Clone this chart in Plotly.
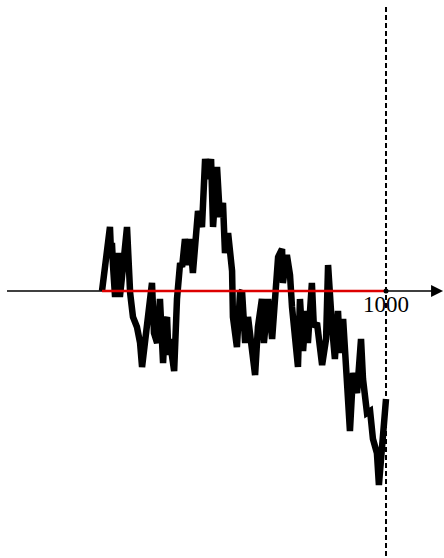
import plotly.graph_objects as go

# Random-walk path (step index, position) sampled along its turning points
steps = [0, 11, 18, 21, 28, 32, 35, 39, 46, 50, 56, 63, 67, 74, 88, 99, 109, 123, 134,
         141, 151, 162, 176, 183, 194, 204, 211, 215, 222, 229, 234, 239, 246, 254,
         264, 275, 282, 292, 303, 310, 320, 335, 338, 352, 363, 373, 384, 391, 405,
         415, 426, 433, 444, 458, 461, 475, 486, 493, 504, 514, 528, 539, 549, 563,
         570, 585, 599, 609, 620, 634, 637, 651, 662, 669, 680, 690, 697, 708, 718,
         725, 739, 746, 757, 768, 775, 789, 796, 810, 820, 831, 838, 849, 856, 866,
         873, 884, 898, 912, 919, 933, 944, 954, 968, 975, 986, 1000]
position = [0, 6, 10, 13.5, 16, 9, 12, 6, -1.5, 4, 9.5, -1.5, 3, 6, 16, -0.5, -6.5,
            -9, -13, -19, -13, -6.5, 2, -10.5, -13, -2, -9, -18, -8, -6.5, -16, -12,
            -16, -20, -2, 7, 6, 13, 6.5, 13, 4.5, 18.5, 20, 16, 33, 28, 33, 16, 31,
            18.5, 22, 9.5, 14.5, 5, -6.5, -14, -0.5, 0, -13, -6.5, -14, -21, -9, -2,
            -13, -2, -12, -0.5, 8.5, 10.5, 2, 9, 4, -4, -10.5, -19, -2, -15, -5, -13,
            2, -9, -8, -17, -18.5, -12, 6.5, -9, -17, -5, -15.5, -7, -15, -25, -35,
            -20.5, -25.5, -12, -22, -30.5, -30, -37, -40.5, -48.5, -37, -27]

n_steps = 1000
x_range = [-359.2, 1204.2]
y_range = [-66.75, 72.75]
axis_left = -334.5
axis_tip = 1201

fig = go.Figure()

# horizontal axis (left part, underneath the walk)
fig.add_trace(go.Scatter(x=[axis_left, n_steps], y=[0, 0], mode="lines",
                         line=dict(color="black", width=1.5), hoverinfo="skip"))

# the walk itself
fig.add_trace(go.Scatter(x=steps, y=position, mode="lines",
                         line=dict(color="black", width=6.5), hoverinfo="skip"))

# zero level over the walk's span
fig.add_trace(go.Scatter(x=[0, n_steps], y=[0, 0], mode="lines",
                         line=dict(color="#dd0000", width=2.5), hoverinfo="skip"))

# dashed marker at the final step
fig.add_trace(go.Scatter(x=[n_steps, n_steps], y=[71, y_range[0]], mode="lines",
                         line=dict(color="black", width=2, dash="5px,3px"),
                         hoverinfo="skip"))
fig.add_trace(go.Scatter(x=[n_steps], y=[0], mode="markers",
                         marker=dict(color="black", size=5), hoverinfo="skip"))

# arrow continuing the axis to the right
fig.add_annotation(x=axis_tip, y=0, ax=n_steps, ay=0, xref="x", yref="y",
                   axref="x", ayref="y", text="", showarrow=True,
                   arrowhead=2, arrowsize=1.6, arrowwidth=1.5, arrowcolor="black")

fig.add_annotation(x=n_steps, y=0.2, xref="x", yref="y", text="1000",
                   showarrow=False, yanchor="top", xanchor="center",
                   font=dict(family="Liberation Serif", size=23, color="black"))

fig.update_layout(
    width=444, height=558, autosize=False,
    margin=dict(l=0, r=0, t=0, b=0),
    paper_bgcolor="white", plot_bgcolor="white",
    showlegend=False,
    xaxis=dict(range=x_range, visible=False, fixedrange=True),
    yaxis=dict(range=y_range, visible=False, fixedrange=True),
)

fig.write_html("out.html")
